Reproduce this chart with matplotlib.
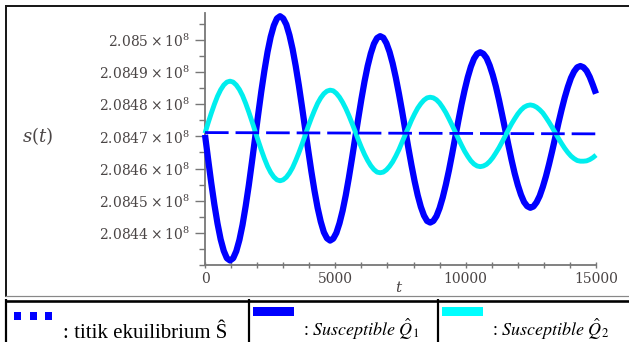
import matplotlib
matplotlib.use("Agg")
import matplotlib.pyplot as plt
from matplotlib.ticker import MultipleLocator, FixedLocator, FixedFormatter
from matplotlib.lines import Line2D
from matplotlib.patches import Rectangle

# ---------------- data (values in units of 10^8) ----------------
t = [0, 120, 240, 360, 480, 600, 720, 840, 960, 1080, 1200, 1320, 1440, 1560,
     1680, 1800, 1920, 2040, 2160, 2280, 2400, 2520, 2640, 2760, 2880, 3000,
     3120, 3240, 3360, 3480, 3600, 3720, 3840, 3960, 4080, 4200, 4320, 4440,
     4560, 4680, 4800, 4920, 5040, 5160, 5280, 5400, 5520, 5640, 5760, 5880,
     6000, 6120, 6240, 6360, 6480, 6600, 6720, 6840, 6960, 7080, 7200, 7320,
     7440, 7560, 7680, 7800, 7920, 8040, 8160, 8280, 8400, 8520, 8640, 8760,
     8880, 9000, 9120, 9240, 9360, 9480, 9600, 9720, 9840, 9960, 10080, 10200,
     10320, 10440, 10560, 10680, 10800, 10920, 11040, 11160, 11280, 11400,
     11520, 11640, 11760, 11880, 12000, 12120, 12240, 12360, 12480, 12600,
     12720, 12840, 12960, 13080, 13200, 13320, 13440, 13560, 13680, 13800,
     13920, 14040, 14160, 14280, 14400, 14520, 14640, 14760, 14880, 15000]

q1 = [2.084705, 2.084629, 2.084555, 2.084488, 2.084429, 2.084380, 2.084344,
      2.084321, 2.084314,
      2.084321, 2.084343, 2.084378, 2.084425, 2.084483, 2.084548, 2.084620,
      2.084694, 2.084768, 2.084840, 2.084905, 2.084963, 2.085010, 2.085045,
      2.085067, 2.085074,
      2.085067, 2.085048, 2.085015, 2.084972, 2.084919, 2.084859, 2.084793,
      2.084725, 2.084657, 2.084591, 2.084531, 2.084478, 2.084435, 2.084402,
      2.084383, 2.084376,
      2.084382, 2.084400, 2.084430, 2.084469, 2.084517, 2.084572, 2.084632,
      2.084694, 2.084756, 2.084816, 2.084871, 2.084919, 2.084958, 2.084988,
      2.085006, 2.085012,
      2.085007, 2.084990, 2.084963, 2.084927, 2.084883, 2.084833, 2.084779,
      2.084722, 2.084665, 2.084611, 2.084561, 2.084517, 2.084481, 2.084454,
      2.084437, 2.084432,
      2.084437, 2.084452, 2.084477, 2.084510, 2.084550, 2.084595, 2.084645,
      2.084697, 2.084749, 2.084799, 2.084844, 2.084884, 2.084917, 2.084942,
      2.084957, 2.084962,
      2.084957, 2.084944, 2.084921, 2.084891, 2.084855, 2.084813, 2.084767,
      2.084720, 2.084673, 2.084627, 2.084585, 2.084549, 2.084519, 2.084496,
      2.084483, 2.084478,
      2.084482, 2.084495, 2.084515, 2.084543, 2.084576, 2.084614, 2.084655,
      2.084698, 2.084742, 2.084783, 2.084821, 2.084854, 2.084882, 2.084902,
      2.084915, 2.084919,
      2.084915, 2.084904, 2.084885, 2.084860, 2.084833]

q2 = [2.084710, 2.084742, 2.084772, 2.084800, 2.084825, 2.084845, 2.084860,
      2.084869, 2.084872,
      2.084869, 2.084860, 2.084846, 2.084827, 2.084803, 2.084776, 2.084747,
      2.084717, 2.084687, 2.084658, 2.084631, 2.084607, 2.084588, 2.084574,
      2.084565, 2.084562,
      2.084565, 2.084573, 2.084586, 2.084603, 2.084625, 2.084649, 2.084675,
      2.084703, 2.084731, 2.084757, 2.084781, 2.084803, 2.084820, 2.084833,
      2.084841, 2.084844,
      2.084842, 2.084834, 2.084822, 2.084806, 2.084787, 2.084765, 2.084741,
      2.084716, 2.084690, 2.084666, 2.084644, 2.084625, 2.084609, 2.084597,
      2.084589, 2.084587,
      2.084589, 2.084596, 2.084607, 2.084621, 2.084639, 2.084659, 2.084682,
      2.084705, 2.084727, 2.084750, 2.084770, 2.084788, 2.084802, 2.084813,
      2.084820, 2.084822,
      2.084820, 2.084814, 2.084804, 2.084790, 2.084774, 2.084755, 2.084735,
      2.084714, 2.084693, 2.084673, 2.084654, 2.084638, 2.084624, 2.084614,
      2.084608, 2.084606,
      2.084608, 2.084613, 2.084622, 2.084634, 2.084649, 2.084665, 2.084683,
      2.084702, 2.084721, 2.084739, 2.084755, 2.084770, 2.084782, 2.084791,
      2.084796, 2.084798,
      2.084796, 2.084791, 2.084783, 2.084773, 2.084759, 2.084744, 2.084728,
      2.084711, 2.084694, 2.084678, 2.084663, 2.084650, 2.084639, 2.084631,
      2.084625, 2.084623,
      2.084623, 2.084624, 2.084628, 2.084634, 2.084642]

t_eq = [0, 15000]
s_eq = [2.084712, 2.084708]

xtick_vals = [0, 5000, 10000, 15000]
xtick_labels = ["0", "5000", "10000", "15000"]
ytick_vals = [2.0844, 2.0845, 2.0846, 2.0847, 2.0848, 2.0849, 2.0850]
ytick_text = ["2.0844", "2.0845", "2.0846", "2.0847", "2.0848", "2.0849", "2.085"]

legend_texts = [": titik ekuilibrium Ŝ",
                r": $\mathit{Susceptible}\ \hat{Q}_1$",
                r": $\mathit{Susceptible}\ \hat{Q}_2$"]

# ---------------- figure ----------------
W, H = 629, 342
fig = plt.figure(figsize=(W / 100, H / 100), dpi=100)
fig.patch.set_facecolor("white")

def fx(px):
    return px / W

def fy(py):
    return 1 - py / H

ax = fig.add_axes([fx(205), fy(265), 391 / W, 252 / H])
ax.set_facecolor("none")

blue = "#0000ff"
cyan = "#00eeee"
ax.plot(t, q1, color=blue, lw=4.5, solid_capstyle="butt",
        solid_joinstyle="round", clip_on=False, zorder=3)
ax.plot(t, q2, color=cyan, lw=3.5, solid_capstyle="butt",
        solid_joinstyle="round", clip_on=False, zorder=4)
ax.plot(t_eq, s_eq, color=blue, lw=2.0, dashes=(8.5, 2.5), clip_on=False,
        zorder=5)

ax.set_xlim(0, 15000)
ax.set_ylim(2.0843, 2.085084)

for s in ["top", "right"]:
    ax.spines[s].set_visible(False)
for s in ["left", "bottom"]:
    ax.spines[s].set_color("#777777")
    ax.spines[s].set_linewidth(1.3)

ax.xaxis.set_major_locator(FixedLocator(xtick_vals))
ax.xaxis.set_major_formatter(FixedFormatter(xtick_labels))
ax.xaxis.set_minor_locator(MultipleLocator(1000))
ax.yaxis.set_major_locator(FixedLocator(ytick_vals))
ax.yaxis.set_major_formatter(FixedFormatter(
    [r"$%s \times 10^{8}$" % v for v in ytick_text]))
ax.yaxis.set_minor_locator(MultipleLocator(0.00005))

lab_col = "#4a4545"
ax.tick_params(axis="y", which="major", length=7, width=1, color="#777777",
               direction="out", pad=4, labelsize=10, labelcolor=lab_col)
ax.tick_params(axis="y", which="minor", length=4.5, width=1, color="#777777",
               direction="out")
ax.tick_params(axis="x", which="major", length=4, width=1, color="#777777",
               direction="inout", pad=3, labelsize=10, labelcolor=lab_col)
ax.tick_params(axis="x", which="minor", length=4, width=1, color="#777777",
               direction="inout")
for lab in ax.get_yticklabels() + ax.get_xticklabels():
    lab.set_fontfamily("DejaVu Serif")
    lab.set_math_fontfamily("dejavuserif")

fig.text(fx(38), fy(136), r"$s(t)$", ha="center", va="center", fontsize=13,
         color=lab_col, math_fontfamily="dejavuserif")
fig.text(fx(399), fy(287), r"$t$", ha="center", va="center", fontsize=11,
         color=lab_col, math_fontfamily="dejavuserif")

# ---------------- frame of the plot image ----------------
def hline(y, x0, x1, color, lw):
    fig.add_artist(Line2D([fx(x0), fx(x1)], [fy(y), fy(y)], color=color,
                          lw=lw * 0.72, solid_capstyle="butt"))

def vline(x, y0, y1, color, lw):
    fig.add_artist(Line2D([fx(x), fx(x)], [fy(y0), fy(y1)], color=color,
                          lw=lw * 0.72, solid_capstyle="butt"))

hline(5.5, 4.5, 629, "#1a1a1a", 2)
vline(5.5, 4.5, 297, "#1a1a1a", 2)
hline(296, 4.5, 629, "#888888", 1.2)

# ---------------- legend table ----------------
hline(300.5, 4.5, 629, "#000000", 2.6)
vline(5.5, 299, 342, "#000000", 2.2)
vline(249, 299, 342, "#000000", 2.2)
vline(438, 299, 342, "#000000", 2.2)

for x0 in (14, 30, 45):
    fig.add_artist(Rectangle((fx(x0), fy(320)), 7 / W, 8 / H,
                             facecolor=blue, edgecolor="none"))
fig.add_artist(Rectangle((fx(253), fy(316)), 41 / W, 9 / H,
                         facecolor=blue, edgecolor="none"))
fig.add_artist(Rectangle((fx(442), fy(316)), 41 / W, 9 / H,
                         facecolor="#00ffff", edgecolor="none"))

fig.text(fx(63), fy(338), legend_texts[0], ha="left", va="baseline",
         fontsize=15, family="Liberation Serif", color="black")
fig.text(fx(303), fy(336), legend_texts[1], ha="left", va="baseline",
         fontsize=13, family="Liberation Serif", color="black",
         math_fontfamily="stix")
fig.text(fx(492), fy(336), legend_texts[2], ha="left", va="baseline",
         fontsize=13, family="Liberation Serif", color="black",
         math_fontfamily="stix")

fig.savefig("out.png", dpi=100, facecolor="white")
